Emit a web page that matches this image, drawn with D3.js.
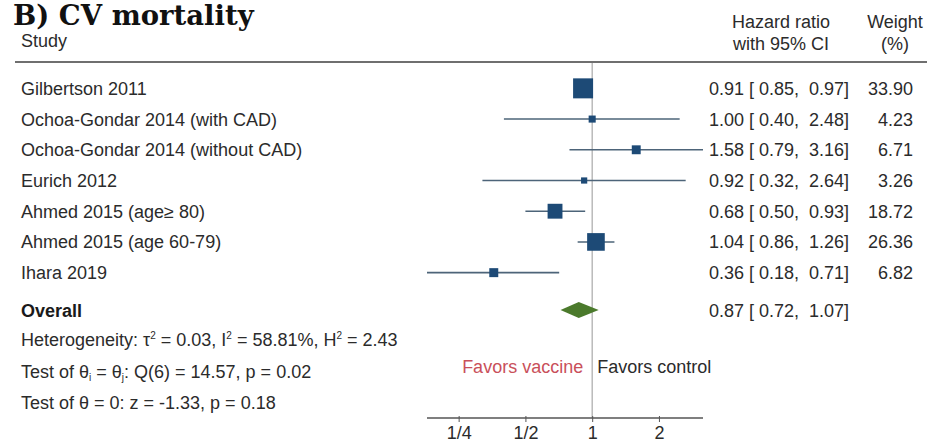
<!DOCTYPE html>
<html>
<head>
<meta charset="utf-8">
<script src="https://cdn.jsdelivr.net/npm/d3@7"></script>
<style>
  html, body { margin: 0; padding: 0; background: #fff; }
  svg { display: block; }
</style>
</head>
<body>
<svg id="chart" width="927" height="442"></svg>
<script>
// Study-level estimates (hazard ratio with 95% CI) and random-effects weights
const studies = [
  "Gilbertson 2011",
  "Ochoa-Gondar 2014 (with CAD)",
  "Ochoa-Gondar 2014 (without CAD)",
  "Eurich 2012",
  "Ahmed 2015 (age\u2265 80)",
  "Ahmed 2015 (age 60-79)",
  "Ihara 2019"
];
const hr      = [0.91, 1.00, 1.58, 0.92, 0.68, 1.04, 0.36];
const ciLow   = [0.85, 0.40, 0.79, 0.32, 0.50, 0.86, 0.18];
const ciHigh  = [0.97, 2.48, 3.16, 2.64, 0.93, 1.26, 0.71];
const weights = [33.90, 4.23, 6.71, 3.26, 18.72, 26.36, 6.82];

// Pooled estimate
const overall = { hr: 0.87, lo: 0.72, hi: 1.07 };

// Axis ticks
const tickValues = [0.25, 0.5, 1, 2];
const tickLabels = ["1/4", "1/2", "1", "2"];

const svg = d3.select("#chart");
const sans = "Liberation Sans, Arial, sans-serif";
const fs = 18;
const textCol = "#2b2b2b";

const x = d3.scaleLog().base(2).domain([0.18, 3.16]).range([427, 703]);
const y = d3.scaleBand().domain(d3.range(studies.length)).range([73, 288]);
const yc = i => y(i) + y.bandwidth() / 2;
const side = d3.scaleSqrt().domain([0, 33.9]).range([0, 20]);

const fmt = d3.format(".2f");
const ciText = (m, l, h) => `${fmt(m)} [ ${fmt(l)},  ${fmt(h)}]`;

// Title
svg.append("text")
  .attr("x", 13).attr("y", 25)
  .attr("font-family", "DejaVu Serif, Georgia, serif")
  .attr("font-weight", "bold").attr("font-size", 27.5)
  .attr("fill", "#111")
  .text("B) CV mortality");

// Column headers
const header = (xx, yy, t, anchor) => svg.append("text")
  .attr("x", xx).attr("y", yy).attr("text-anchor", anchor)
  .attr("font-family", sans).attr("font-size", fs).attr("fill", textCol)
  .text(t);
header(21, 47, "Study", "start");
header(781, 28, "Hazard ratio", "middle");
header(781, 50, "with 95% CI", "middle");
header(895, 28, "Weight", "middle");
header(895, 50, "(%)", "middle");

// Header rule
svg.append("line")
  .attr("x1", 15).attr("x2", 927).attr("y1", 62).attr("y2", 62)
  .attr("stroke", "#6f6f6f").attr("stroke-width", 2);

// Line of no effect
svg.append("line")
  .attr("x1", x(1)).attr("x2", x(1)).attr("y1", 63).attr("y2", 418)
  .attr("stroke", "#a9a9a9").attr("stroke-width", 1.2);

// Study rows
const rows = svg.append("g").selectAll("g").data(studies).join("g");

rows.append("text")
  .attr("x", 21).attr("y", (d, i) => yc(i) + 6.5)
  .attr("font-family", sans).attr("font-size", fs).attr("fill", textCol)
  .text(d => d);

rows.append("line")
  .attr("x1", (d, i) => x(ciLow[i])).attr("x2", (d, i) => x(ciHigh[i]))
  .attr("y1", (d, i) => yc(i)).attr("y2", (d, i) => yc(i))
  .attr("stroke", "#4d6479").attr("stroke-width", 1.6);

rows.append("rect")
  .attr("x", (d, i) => x(hr[i]) - side(weights[i]) / 2)
  .attr("y", (d, i) => yc(i) - side(weights[i]) / 2)
  .attr("width", (d, i) => side(weights[i]))
  .attr("height", (d, i) => side(weights[i]))
  .attr("fill", "#1d4a76");

rows.append("text")
  .attr("x", 849).attr("y", (d, i) => yc(i) + 6.5).attr("text-anchor", "end")
  .attr("font-family", sans).attr("font-size", fs).attr("fill", textCol)
  .attr("xml:space", "preserve")
  .text((d, i) => ciText(hr[i], ciLow[i], ciHigh[i]));

rows.append("text")
  .attr("x", 913).attr("y", (d, i) => yc(i) + 6.5).attr("text-anchor", "end")
  .attr("font-family", sans).attr("font-size", fs).attr("fill", textCol)
  .text((d, i) => fmt(weights[i]));

// Overall row
const yo = 310;
svg.append("text").attr("x", 21).attr("y", yo + 6.5)
  .attr("font-family", sans).attr("font-size", fs).attr("font-weight", "bold")
  .attr("fill", "#1a1a1a").text("Overall");
svg.append("path")
  .attr("d", `M${x(overall.lo)},${yo} L${x(overall.hr)},${yo - 8} L${x(overall.hi)},${yo} L${x(overall.hr)},${yo + 8} Z`)
  .attr("fill", "#4b7a2c");
svg.append("text")
  .attr("x", 849).attr("y", yo + 6.5).attr("text-anchor", "end")
  .attr("font-family", sans).attr("font-size", fs).attr("fill", textCol)
  .attr("xml:space", "preserve")
  .text(ciText(overall.hr, overall.lo, overall.hi));

// Heterogeneity and test statistics
const stat = (yy) => svg.append("text").attr("x", 21).attr("y", yy)
  .attr("font-family", sans).attr("font-size", fs).attr("fill", textCol);

const s1 = stat(346);
s1.append("tspan").text("Heterogeneity: \u03c4");
s1.append("tspan").attr("dy", -7).attr("font-size", 10).text("2");
s1.append("tspan").attr("dy", 7).text(" = 0.03, I");
s1.append("tspan").attr("dy", -7).attr("font-size", 10).text("2");
s1.append("tspan").attr("dy", 7).text(" = 58.81%, H");
s1.append("tspan").attr("dy", -7).attr("font-size", 10).text("2");
s1.append("tspan").attr("dy", 7).text(" = 2.43");

const s2 = stat(378);
s2.append("tspan").text("Test of \u03b8");
s2.append("tspan").attr("dy", 3).attr("font-size", 10).text("i");
s2.append("tspan").attr("dy", -3).text(" = \u03b8");
s2.append("tspan").attr("dy", 3).attr("font-size", 10).text("j");
s2.append("tspan").attr("dy", -3).text(": Q(6) = 14.57, p = 0.02");

stat(409).text("Test of \u03b8 = 0: z = -1.33, p = 0.18");

// Direction labels
svg.append("text").attr("x", x(1) - 9).attr("y", 373).attr("text-anchor", "end")
  .attr("font-family", sans).attr("font-size", fs).attr("fill", "#c9505a")
  .text("Favors vaccine");
svg.append("text").attr("x", x(1) + 5).attr("y", 373)
  .attr("font-family", sans).attr("font-size", fs).attr("fill", textCol)
  .text("Favors control");

// X axis
const axis = svg.append("g").attr("transform", "translate(0,418)")
  .call(d3.axisBottom(x).tickValues(tickValues)
    .tickFormat((d, i) => tickLabels[i]).tickSize(4).tickSizeOuter(0));
axis.select(".domain").attr("stroke", "#555").attr("stroke-width", 1.3)
  .attr("d", `M${x.range()[0]},0H${x.range()[1]}`);
axis.selectAll(".tick line").attr("stroke", "#555").attr("y1", -2);
axis.selectAll(".tick text")
  .attr("font-family", sans).attr("font-size", fs).attr("fill", textCol)
  .attr("dy", "0.76em");
</script>
</body>
</html>
